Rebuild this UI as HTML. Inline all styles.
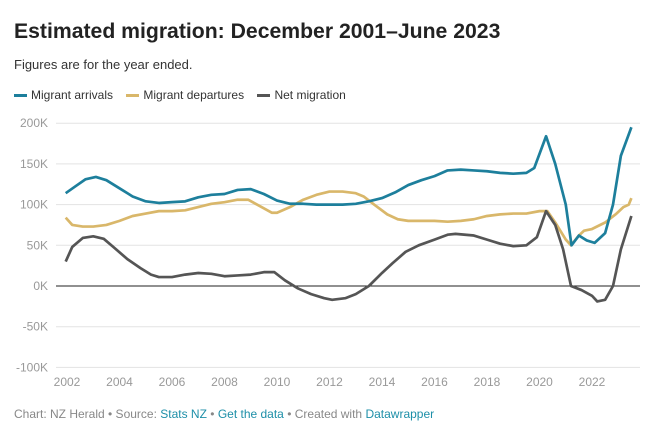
<!DOCTYPE html>
<html><head><meta charset="utf-8"><style>
body{margin:0;background:#fff;font-family:"Liberation Sans",sans-serif;}
#w{position:relative;width:661px;height:435px;overflow:hidden}
.t{position:absolute;white-space:nowrap}
</style></head><body><div id="w">
<div class="t" style="left:14px;top:20px;font-size:21.2px;font-weight:bold;color:#222">Estimated migration: December 2001–June 2023</div>
<div class="t" style="left:14px;top:57px;font-size:13px;color:#333">Figures are for the year ended.</div>
<div class="t" style="left:14px;top:88px;font-size:12px;color:#333">
<span><span style="display:inline-block;width:13px;height:3px;background:#1d7f9c;vertical-align:middle;margin-right:4px"></span>Migrant arrivals</span>
<span style="margin-left:10px"><span style="display:inline-block;width:13px;height:3px;background:#d9b76a;vertical-align:middle;margin-right:4px"></span>Migrant departures</span>
<span style="margin-left:10px"><span style="display:inline-block;width:13px;height:3px;background:#555;vertical-align:middle;margin-right:4px"></span>Net migration</span>
</div>
<svg id="s" width="661" height="435" style="position:absolute;left:0;top:0"></svg>
<div class="t" style="left:14px;top:407px;font-size:12px;color:#888">Chart: NZ Herald • Source: <span style="color:#1d8fa8">Stats NZ</span> • <span style="color:#1d8fa8">Get the data</span> • Created with <span style="color:#1d8fa8">Datawrapper</span></div>
</div>
<script>
const yTicks=[200,150,100,50,0,-50,-100];
const xTicks=[2002,2004,2006,2008,2010,2012,2014,2016,2018,2020,2022];
const arrYears=[2001.95,2002.3,2002.7,2003.1,2003.5,2004,2004.5,2005,2005.5,2006,2006.5,2007,2007.5,2008,2008.5,2009,2009.5,2010,2010.5,2011,2011.5,2012,2012.5,2013,2013.5,2014,2014.5,2015,2015.5,2016,2016.5,2017,2017.5,2018,2018.5,2019,2019.5,2019.8,2020.25,2020.6,2021.0,2021.22,2021.5,2021.8,2022.1,2022.5,2022.8,2023.1,2023.5];
const arrivals=[114,122,131,134,130,120,110,104,102,103,104,109,112,113,118,119,113,105,101,101,100,100,100,101,104,108,115,124,130,135,142,143,142,141,139,138,139,145,184,150,100,50,62,56,53,65,100,160,195];
const depYears=[2001.95,2002.2,2002.6,2003,2003.5,2004,2004.5,2005,2005.5,2006,2006.5,2007,2007.5,2008,2008.5,2008.9,2009.3,2009.8,2010,2010.5,2011,2011.5,2012,2012.5,2013,2013.3,2013.7,2014.2,2014.6,2015,2016,2016.5,2017,2017.5,2018,2018.5,2019,2019.5,2020,2020.3,2020.6,2021,2021.2,2021.5,2021.7,2022,2022.5,2022.9,2023.2,2023.4,2023.5];
const departures=[84,75,73,73,75,80,86,89,92,92,93,97,101,103,106,106,99,90,90,97,106,112,116,116,114,110,100,88,82,80,80,79,80,82,86,88,89,89,92,92,78,57,50,62,68,70,78,88,97,100,108];
const netYears=[2001.95,2002.2,2002.6,2003,2003.4,2003.8,2004.3,2004.8,2005.2,2005.5,2006,2006.5,2007,2007.5,2008,2008.5,2009,2009.5,2009.9,2010.3,2010.8,2011.3,2011.8,2012.1,2012.6,2013,2013.5,2014,2014.4,2014.9,2015.4,2016,2016.5,2016.8,2017.5,2018,2018.5,2019,2019.5,2019.9,2020.25,2020.6,2020.9,2021.2,2021.6,2022,2022.2,2022.5,2022.8,2023.1,2023.5];
const net=[30,48,59,61,58,47,33,22,14,11,11,14,16,15,12,13,14,17,17,7,-3,-10,-15,-17,-15,-10,0,16,28,42,50,57,63,64,62,57,52,49,50,60,92,75,45,0,-5,-12,-19,-17,0,45,86];
const NS="http://www.w3.org/2000/svg",s=document.getElementById('s');
const X=v=>67+(v-2002)*26.25, Y=v=>286-v*0.814;
function el(t,a){const e=document.createElementNS(NS,t);for(const k in a)e.setAttribute(k,a[k]);s.appendChild(e);return e;}
yTicks.forEach(v=>{
 const l=el('line',{x1:56,x2:640,y1:Y(v),y2:Y(v),stroke:v===0?'#222':'#e3e3e3','stroke-width':1});
 
 
 const t=el('text',{x:48,y:Y(v)+4,'text-anchor':'end','font-size':12,fill:'#999','font-family':'Liberation Sans'});
 t.textContent=v+'K';
 
 
});
xTicks.forEach(v=>{
 const t=el('text',{x:X(v),y:386,'text-anchor':'middle','font-size':12,fill:'#999','font-family':'Liberation Sans'});
 t.textContent=v;
 
 
});
function line(xs,ys,c,n){
 const p=el('polyline',{points:xs.map((x,i)=>X(x)+','+Y(ys[i])).join(' '),fill:'none',stroke:c,'stroke-width':2.7,'stroke-linejoin':'round'});
 
 
}
line(depYears,departures,'#d9b76a','departures-line');
line(netYears,net,'#555','net-migration-line');
line(arrYears,arrivals,'#1d7f9c','arrivals-line');
</script></body></html>
